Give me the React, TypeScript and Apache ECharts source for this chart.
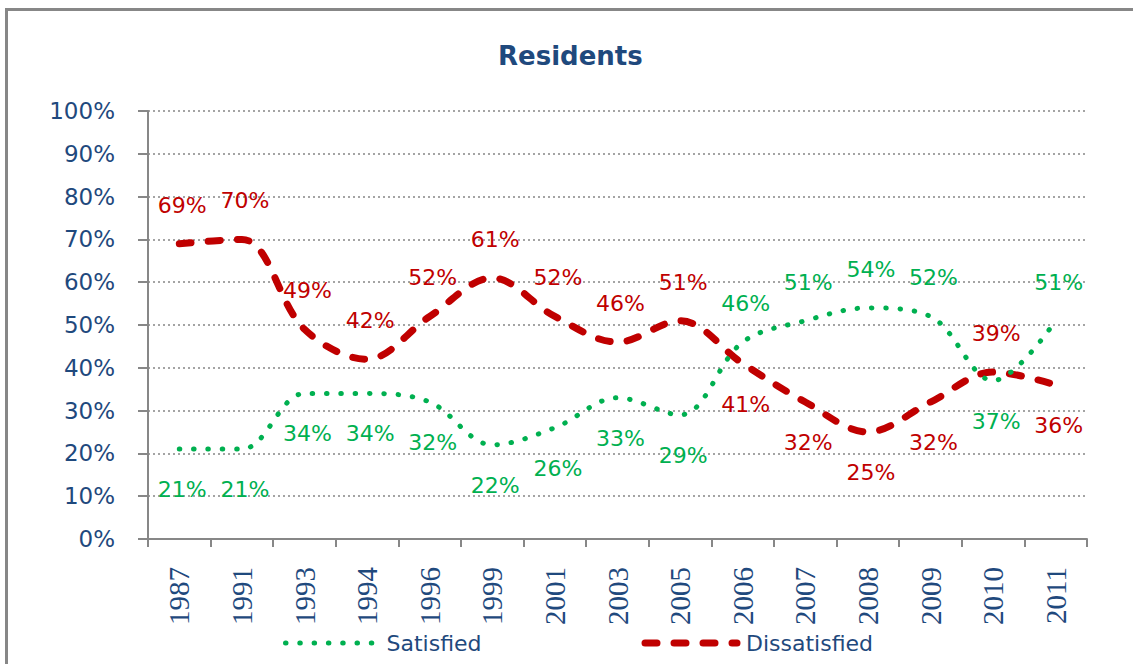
import React, { useEffect, useRef } from "react";
import * as echarts from "echarts";

const categories = ["1987", "1991", "1993", "1994", "1996", "1999", "2001", "2003", "2005", "2006", "2007", "2008", "2009", "2010", "2011"];
const satisfied = [21, 21, 34, 34, 32, 22, 26, 33, 29, 46, 51, 54, 52, 37, 51];
const dissatisfied = [69, 70, 49, 42, 52, 61, 52, 46, 51, 41, 32, 25, 32, 39, 36];
const seriesNames = ["Satisfied", "Dissatisfied"];
const titleText = "Residents";

// label placement (styling only)
const satisfiedLabelSide = ["bottom", "bottom", "bottom", "bottom", "bottom", "bottom", "bottom", "bottom", "bottom", "top", "top", "top", "top", "bottom", "top"];
const dissatisfiedLabelSide = ["top", "top", "top", "top", "top", "top", "top", "top", "top", "bottom", "bottom", "bottom", "bottom", "top", "bottom"];

const BLUE = "#1F497D";
const GREEN = "#00B050";
const RED = "#C00000";
const GREY = "#878787";

const greenLine = { color: GREEN, width: 5, type: [0.5, 13.8], cap: "round" };
const redLine = { color: RED, width: 7, type: [12, 17], cap: "round" };

function buildData(values: number[], sides: string[], color: string) {
  return values.map((v, i) => ({
    value: v,
    label: {
      show: true,
      position: sides[i],
      distance: sides[i] === "top" ? 27 : 29,
      offset: [3, 0],
      formatter: "{c}%",
      color,
      fontFamily: "DejaVu Sans",
      fontSize: 22,
    },
  }));
}

export default function App() {
  const ref = useRef<HTMLDivElement>(null);
  useEffect(() => {
    if (!ref.current) return;
    const chart = echarts.init(ref.current, null, { renderer: "svg" });
    chart.setOption({
      animation: false,
      backgroundColor: "#ffffff",
      title: {
        text: titleText,
        left: 493,
        top: 38,
        textStyle: { color: BLUE, fontFamily: "DejaVu Sans", fontWeight: "bold", fontSize: 26 },
      },
      graphic: [
        {
          type: "rect",
          shape: { x: 6.5, y: 9.5, width: 1300, height: 800 },
          style: { fill: "none", stroke: GREY, lineWidth: 3 },
          silent: true,
        },
      ],
      legend: {
        data: [
          { name: seriesNames[0], lineStyle: greenLine },
          { name: seriesNames[1], lineStyle: redLine },
        ],
        left: 278,
        top: 627,
        itemWidth: 92,
        itemHeight: 20,
        itemGap: 160,
        textStyle: { color: BLUE, fontFamily: "DejaVu Sans", fontSize: 22, padding: [0, 0, 0, 4] },
        itemStyle: { opacity: 0 },
      },
      grid: { left: 148, right: 46, top: 111, bottom: 125, containLabel: false },
      xAxis: {
        type: "category",
        data: categories,
        boundaryGap: true,
        axisLine: { lineStyle: { color: GREY, width: 2 } },
        axisTick: { show: true, length: 8, lineStyle: { color: GREY, width: 2 } },
        axisLabel: {
          rotate: 90,
          margin: 28,
          color: BLUE,
          fontFamily: "Liberation Serif",
          fontSize: 29,
          interval: 0,
        },
        splitLine: { show: false },
      },
      yAxis: {
        type: "value",
        min: 0,
        max: 100,
        interval: 10,
        axisLine: { show: true, lineStyle: { color: GREY, width: 2 } },
        axisTick: { show: true, length: 10, lineStyle: { color: GREY, width: 2 } },
        axisLabel: {
          formatter: "{value}%",
          margin: 33,
          color: BLUE,
          fontFamily: "DejaVu Sans",
          fontSize: 23,
        },
        splitLine: { show: true, lineStyle: { color: GREY, width: 1.5, type: [2, 3] } },
      },
      series: [
        {
          name: seriesNames[0],
          type: "line",
          smooth: 0.35,
          color: GREEN,
          symbol: "circle",
          symbolSize: 1,
          itemStyle: { color: "rgba(0,0,0,0)" },
          lineStyle: greenLine,
          data: buildData(satisfied, satisfiedLabelSide, GREEN),
          z: 3,
        },
        {
          name: seriesNames[1],
          type: "line",
          smooth: 0.35,
          color: RED,
          symbol: "circle",
          symbolSize: 1,
          itemStyle: { color: "rgba(0,0,0,0)" },
          lineStyle: redLine,
          data: buildData(dissatisfied, dissatisfiedLabelSide, RED),
          z: 2,
        },
      ],
    });
    return () => chart.dispose();
  }, []);
  return <div ref={ref} style={{ position: "absolute", left: 0, top: 0, width: 1133, height: 664 }} />;
}
